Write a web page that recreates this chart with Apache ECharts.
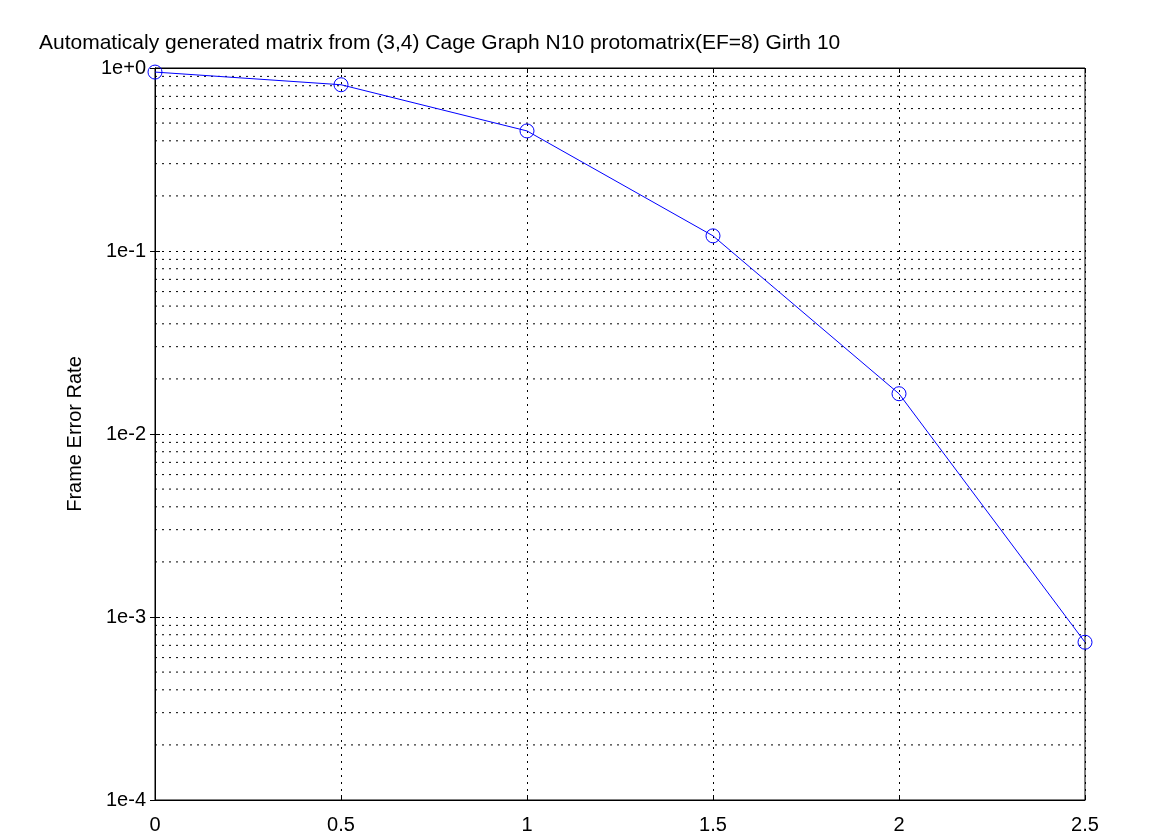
<!DOCTYPE html>
<html><head><meta charset="utf-8">
<script src="https://cdn.jsdelivr.net/npm/echarts@6/dist/echarts.min.js"></script>
<style>html,body{margin:0;padding:0;background:#fff}#c{width:1175px;height:835px}</style>
</head><body><div id="c"></div>
<script>
const titleText = 'Automaticaly generated matrix from (3,4) Cage Graph N10 protomatrix(EF=8) Girth 10';
const yName = 'Frame Error Rate';
const xValues = [0, 0.5, 1, 1.5, 2, 2.5];
const ferValues = [0.95, 0.81, 0.453, 0.121, 0.0166, 0.000728];
const minorGrid = [2e-4,3e-4,4e-4,5e-4,6e-4,7e-4,8e-4,9e-4,
  2e-3,3e-3,4e-3,5e-3,6e-3,7e-3,8e-3,9e-3,
  2e-2,3e-2,4e-2,5e-2,6e-2,7e-2,8e-2,9e-2,
  2e-1,3e-1,4e-1,5e-1,6e-1,7e-1,8e-1,9e-1];

const font = 'Liberation Sans, Arial, sans-serif';
const dotStyle = {color:'#000', width:1, type:[2,5]};
function yLabel(v){ const e = Math.round(Math.log10(v)); return '1e' + (e>=0?'+':'-') + Math.abs(e); }

const minorSeries = minorGrid.map(v => ({
  type:'line', xAxisIndex:0, yAxisIndex:0, silent:true, symbol:'none',
  data:[[0, v],[2.5, v]], lineStyle:dotStyle, z:1
}));

const chart = echarts.init(document.getElementById('c'));
chart.setOption({
  animation:false,
  backgroundColor:'#fff',
  title:{text:titleText, left:34, top:28, textStyle:{fontFamily:font, fontSize:21, fontWeight:'normal', color:'#000'}},
  grid:{left:155, right:90, top:68, bottom:34, show:true, borderColor:'#000', borderWidth:1, backgroundColor:'transparent'},
  xAxis:[{
    type:'value', min:0, max:2.5, interval:0.5,
    axisLine:{show:true, lineStyle:{color:'#000'}},
    axisTick:{inside:true, length:5, lineStyle:{color:'#000'}},
    axisLabel:{color:'#000', fontFamily:font, fontSize:20, margin:15, formatter:v=>String(v)},
    splitLine:{show:true, lineStyle:dotStyle}
  },{
    type:'value', position:'top', min:0, max:2.5, interval:0.5,
    axisLine:{show:true, lineStyle:{color:'#000'}},
    axisTick:{inside:true, length:5, lineStyle:{color:'#000'}},
    axisLabel:{show:false}, splitLine:{show:false}
  }],
  yAxis:[{
    type:'log', logBase:10, min:1e-4, max:1,
    name:yName, nameLocation:'middle', nameGap:70,
    nameTextStyle:{fontFamily:font, fontSize:20, color:'#000'},
    axisLine:{show:true, lineStyle:{color:'#000'}},
    axisTick:{inside:true, length:5, lineStyle:{color:'#000'}},
    axisLabel:{color:'#000', fontFamily:font, fontSize:20, margin:9, formatter:yLabel},
    splitLine:{show:true, lineStyle:dotStyle}
  },{
    type:'log', logBase:10, min:1e-4, max:1, position:'right',
    axisLine:{show:true, lineStyle:{color:'#000'}},
    axisTick:{inside:true, length:5, lineStyle:{color:'#000'}},
    axisLabel:{show:false}, splitLine:{show:false}
  }],
  series:[...minorSeries, {
    type:'line', xAxisIndex:0, yAxisIndex:0,
    data:xValues.map((x,i)=>[x, ferValues[i]]),
    symbol:'circle', symbolSize:14, showSymbol:true,
    lineStyle:{color:'#0000ff', width:1},
    itemStyle:{color:'rgba(0,0,0,0)', borderColor:'#0000ff', borderWidth:1},
    z:3
  }]
});
</script></body></html>
